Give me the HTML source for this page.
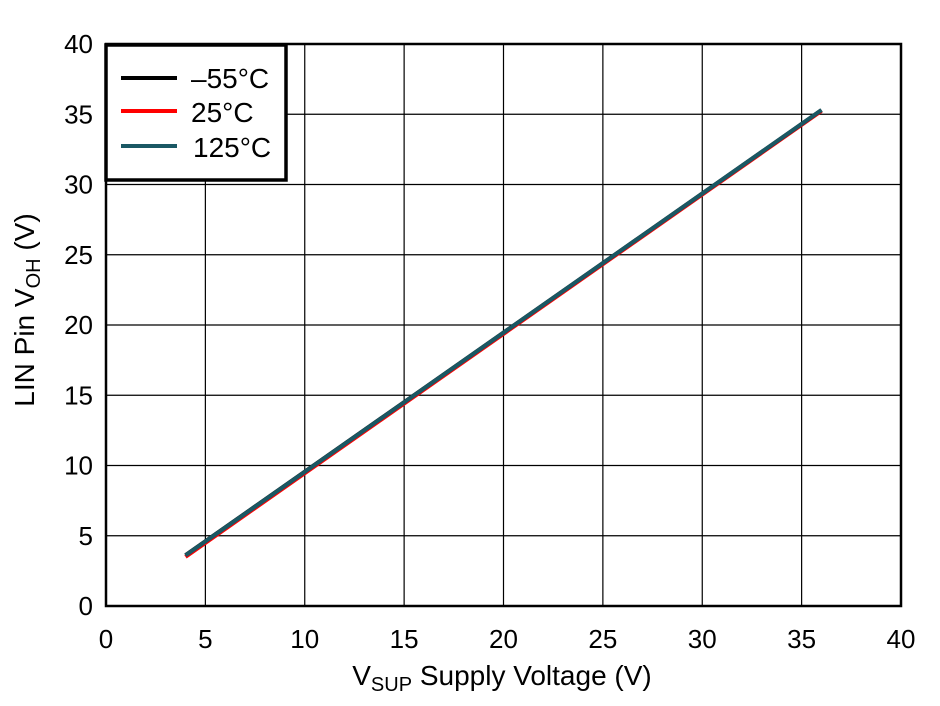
<!DOCTYPE html>
<html><head><meta charset="utf-8"><style>
body{margin:0;background:#fff}
svg text{font-family:"Liberation Sans",Arial,sans-serif;fill:#000}
</style></head><body>
<svg width="940" height="701" viewBox="0 0 940 701" xmlns="http://www.w3.org/2000/svg">
<g id="grid"></g>
<g id="ticks"></g>
<g id="series"></g>
<rect x="106" y="44" width="795" height="562" fill="none" stroke="#000" stroke-width="2.5"/>
<g>
<rect x="106" y="45" width="180" height="135" fill="#fff" stroke="#000" stroke-width="3.5"/>
<line x1="121" y1="78" x2="177" y2="78" stroke="#000" stroke-width="4"/>
<text x="191" y="88" font-size="28">–55°C</text>
<line x1="121" y1="111" x2="177" y2="111" stroke="#ff0000" stroke-width="4"/>
<text x="191" y="122" font-size="28">25°C</text>
<line x1="121" y1="146" x2="177" y2="146" stroke="#1a5864" stroke-width="4"/>
<text x="193" y="157" font-size="28">125°C</text>
</g>
<text x="502" y="685" font-size="28" text-anchor="middle">V<tspan font-size="20" dy="6">SUP</tspan><tspan dy="-6"> Supply Voltage (V)</tspan></text>
<text transform="translate(34,310) rotate(-90)" font-size="28" text-anchor="middle">LIN Pin V<tspan font-size="20" dy="6">OH</tspan><tspan dy="-6"> (V)</tspan></text>
</svg>
<script>
const xTicks=[0,5,10,15,20,25,30,35,40];
const yTicks=[0,5,10,15,20,25,30,35,40];
const vsup=[4,36];
const voutM55=[3.62,35.3];
const vout25=[3.5,35.24];
const vout125=[3.6,35.3];
const X=v=>106+v*795/40, Y=v=>606-v*562/40;
const NS="http://www.w3.org/2000/svg";
const g=document.getElementById('grid'),t=document.getElementById('ticks'),s=document.getElementById('series');
function mk(tag,attrs,p){const e=document.createElementNS(NS,tag);for(const k in attrs)e.setAttribute(k,attrs[k]);p.appendChild(e);return e;}
xTicks.forEach(v=>{
 const l=mk('line',{x1:X(v),x2:X(v),y1:44,y2:606,stroke:'#000','stroke-width':1.2},g);
 
 
 const tx=mk('text',{x:X(v),y:648,'font-size':26,'text-anchor':'middle'},t);tx.textContent=v;
 
 
});
yTicks.forEach(v=>{
 const l=mk('line',{x1:106,x2:901,y1:Y(v),y2:Y(v),stroke:'#000','stroke-width':1.2},g);
 
 
 const tx=mk('text',{x:93,y:Y(v)+9,'font-size':26,'text-anchor':'end'},t);tx.textContent=v;
 
 
});
function line(ys,color,name){
 const pts=vsup.map((v,i)=>X(v)+','+Y(ys[i])).join(' ');
 const p=mk('polyline',{points:pts,fill:'none',stroke:color,'stroke-width':4},s);
 
 
}
line(vout25,'#ff0000','series-25c');
line(voutM55,'#000','series-m55c');
line(vout125,'#1a5864','series-125c');
</script>
</body></html>
